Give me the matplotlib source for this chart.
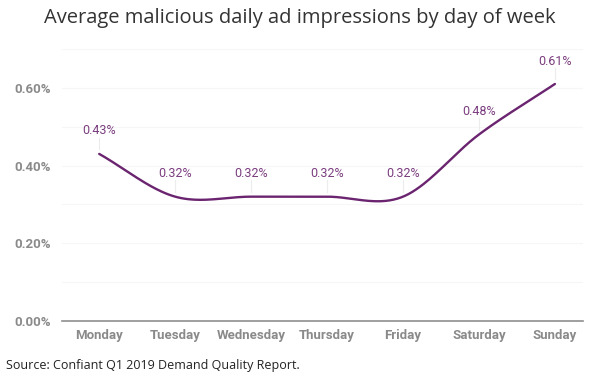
import numpy as np
import matplotlib
matplotlib.use("Agg")
import matplotlib.pyplot as plt

days = ["Monday", "Tuesday", "Wednesday", "Thursday", "Friday", "Saturday", "Sunday"]
values = [0.43, 0.32, 0.32, 0.32, 0.32, 0.48, 0.61]
labels = ["0.43%", "0.32%", "0.32%", "0.32%", "0.32%", "0.48%", "0.61%"]
yticks = [0.0, 0.2, 0.4, 0.6]
ytick_labels = ["0.00%", "0.20%", "0.40%", "0.60%"]

LINE = "#6b246f"
TICK = "#8a8a8a"

def catmull_rom(x, y, n=40):
    x = np.asarray(x, float); y = np.asarray(y, float)
    m = np.zeros_like(y)
    m[1:-1] = (y[2:] - y[:-2]) / (x[2:] - x[:-2])
    m[0] = (y[1] - y[0]) / (x[1] - x[0])
    m[-1] = (y[-1] - y[-2]) / (x[-1] - x[-2])
    xs, ys = [], []
    for i in range(len(x) - 1):
        t = np.linspace(0, 1, n, endpoint=False)
        h = x[i+1] - x[i]
        h00 = 2*t**3 - 3*t**2 + 1
        h10 = t**3 - 2*t**2 + t
        h01 = -2*t**3 + 3*t**2
        h11 = t**3 - t**2
        xs.append(x[i] + t*h)
        ys.append(h00*y[i] + h10*h*m[i] + h01*y[i+1] + h11*h*m[i+1])
    xs.append([x[-1]]); ys.append([y[-1]])
    return np.concatenate(xs), np.concatenate(ys)

fig = plt.figure(figsize=(6, 3.75), dpi=100)
ax = fig.add_axes([62/600, 1 - 321/375, (583-62)/600, (321-49)/375])

xpos = np.arange(len(days))
sx, sy = catmull_rom(xpos, values)
ax.plot(sx, sy, color=LINE, lw=1.7, solid_capstyle="round", zorder=3)

for x, v, lab in zip(xpos, values, labels):
    ax.plot([x, x], [v + 0.012, v + 0.042], color="#ececec", lw=0.8, zorder=2)
    ax.annotate(lab, (x, v), xytext=(0, 16.5), textcoords="offset points",
                ha="center", va="center", fontsize=9, color="#7a3c7e",
                family="Roboto")

ax.set_xlim(-0.49, 6.37)
ax.set_ylim(0, 0.7)
ax.set_yticks(yticks)
ax.set_yticklabels(ytick_labels)
ax.set_xticks(xpos)
ax.set_xticklabels(days)
for t in ax.get_xticklabels() + ax.get_yticklabels():
    t.set_fontfamily("Roboto")
    t.set_fontweight("bold")
    t.set_fontsize(9.5)
    t.set_color(TICK)
ax.tick_params(axis="both", length=0)
ax.tick_params(axis="x", pad=6)
ax.tick_params(axis="y", pad=8)

for gy in np.arange(0.1, 0.71, 0.1):
    ax.axhline(gy, color="#f6f6f6", lw=0.8, zorder=0)

for s in ["top", "right", "left"]:
    ax.spines[s].set_visible(False)
ax.spines["bottom"].set_color("#8f8f8f")
ax.spines["bottom"].set_linewidth(1.2)

fig.text(0.5, 1 - 18/375, "Average malicious daily ad impressions by day of week",
         ha="center", va="center", fontsize=14.5, family="Open Sans", color="#333333")
fig.text(6/600, 1 - 366/375, "Source: Confiant Q1 2019 Demand Quality Report.",
         ha="left", va="center", fontsize=9, family="Open Sans", color="#222222")

fig.savefig("out.png", dpi=100)
